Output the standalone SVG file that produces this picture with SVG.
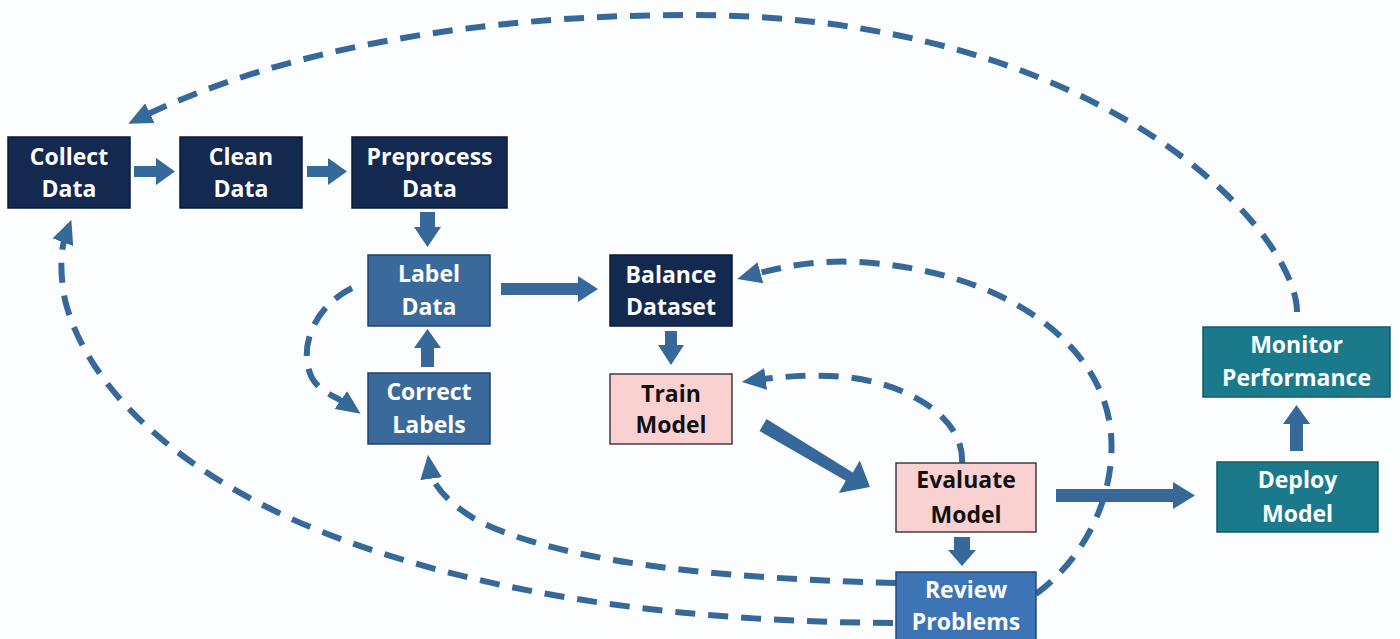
<svg xmlns="http://www.w3.org/2000/svg" width="1400" height="639" viewBox="0 0 1400 639">
<style>
text{font-family:"Open Sans","Liberation Sans",sans-serif;font-weight:700;font-size:23px;text-anchor:middle}
.w{fill:#ffffff}
.k{fill:#111111}
.navy{fill:#14294f;stroke:#0c1a36;stroke-width:1.5}
.mid{fill:#3a6a9b;stroke:#22426c;stroke-width:1.5}
.rev{fill:#3d74b6;stroke:#25497a;stroke-width:1.5}
.pink{fill:#f9d1d1;stroke:#3d3d44;stroke-width:1.5}
.teal{fill:#1a7a8c;stroke:#12596a;stroke-width:1.5}
.blk{fill:#36689a}
.dash{fill:none;stroke:#36689a;stroke-width:6;stroke-dasharray:20 13;marker-end:url(#ah)}
</style>
<defs>
<marker id="ah" markerUnits="userSpaceOnUse" markerWidth="24" markerHeight="22" refX="8" refY="10" orient="auto" viewBox="0 0 22 20">
<path d="M0,0 L22,10 L0,20 Z" fill="#36689a"/>
</marker>
</defs>
<rect width="1400" height="639" fill="#fcfdfe"/>

<g id="connectors">
<!-- solid block arrows -->
<polygon class="blk" points="134,166 156,166 156,158 175,171.5 156,185 156,177 134,177"/>
<polygon class="blk" points="307,166 328,166 328,158 347,171.5 328,185 328,177 307,177"/>
<polygon class="blk" points="420,212 435,212 435,227 441,227 427.5,247 414,227 420,227"/>
<polygon class="blk" points="421,367 434,367 434,348 441,348 427.5,329 414,348 421,348"/>
<polygon class="blk" points="501,283 578,283 578,276 598,289 578,302 578,295 501,295"/>
<polygon class="blk" points="665,331 677,331 677,345 684,345 671,365 658,345 665,345"/>
<polygon class="blk" points="759.5,431 845.8,480.8 838.8,493 870,487 859.8,460.4 852.8,472.6 766.5,419"/>
<polygon class="blk" points="954,537 970,537 970,550 976,550 962,566 948,550 954,550"/>
<polygon class="blk" points="1056,489 1173,489 1173,482 1195,495.5 1173,509 1173,502 1056,502"/>
<polygon class="blk" points="1290,451 1303,451 1303,424 1310,424 1296.5,405 1283,424 1290,424"/>
<!-- dashed feedback loops -->
<path class="dash" d="M1297,312 C1297,230 1100,15 690,15 C480,15 285,48 142,117"/>
<path class="dash" d="M1036,594 C1095,550 1118,480 1110,425 C1098,345 1010,272 860,262 C815,260 785,266 752,275"/>
<path class="dash" d="M962,463 C965,415 900,378 830,376 C800,375 780,377 757,380"/>
<path class="dash" d="M352,288 C312,308 298,350 312,378 C320,392 335,396 348,405"/>
<path class="dash" d="M896,583 C700,578 560,560 480,522 C450,505 432,485 430,470"/>
<path class="dash" d="M893,623 C700,622 500,600 330,535 C200,485 90,400 65,300 C60,275 60,250 66,234"/>
</g>

<g id="collect-data"><rect class="navy" x="8" y="137" width="122" height="71"/><text class="w" x="69" y="165">Collect</text><text class="w" x="69" y="197">Data</text></g>
<g id="clean-data"><rect class="navy" x="180" y="137" width="122" height="71"/><text class="w" x="241" y="165">Clean</text><text class="w" x="241" y="197">Data</text></g>
<g id="preprocess-data"><rect class="navy" x="352" y="137" width="155" height="71"/><text class="w" x="429.5" y="165">Preprocess</text><text class="w" x="429.5" y="197">Data</text></g>
<g id="label-data"><rect class="mid" x="368" y="255" width="122" height="71"/><text class="w" x="429" y="282">Label</text><text class="w" x="429" y="315">Data</text></g>
<g id="correct-labels"><rect class="mid" x="368" y="373" width="122" height="71"/><text class="w" x="429" y="400">Correct</text><text class="w" x="429" y="433">Labels</text></g>
<g id="balance-dataset"><rect class="navy" x="610" y="255" width="122" height="71"/><text class="w" x="671" y="283">Balance</text><text class="w" x="671" y="315">Dataset</text></g>
<g id="train-model"><rect class="pink" x="610" y="374" width="122" height="70"/><text class="k" x="671" y="402">Train</text><text class="k" x="671" y="433">Model</text></g>
<g id="evaluate-model"><rect class="pink" x="896" y="463" width="140" height="69"/><text class="k" x="966" y="488">Evaluate</text><text class="k" x="966" y="523">Model</text></g>
<g id="review-problems"><rect class="rev" x="896" y="572" width="140" height="75"/><text class="w" x="966" y="598">Review</text><text class="w" x="966" y="630">Problems</text></g>
<g id="deploy-model"><rect class="teal" x="1217" y="462" width="161" height="70"/><text class="w" x="1297.5" y="488">Deploy</text><text class="w" x="1297.5" y="522">Model</text></g>
<g id="monitor-performance"><rect class="teal" x="1203" y="327" width="187" height="70"/><text class="w" x="1296.5" y="353">Monitor</text><text class="w" x="1296.5" y="386">Performance</text></g>
</svg>
